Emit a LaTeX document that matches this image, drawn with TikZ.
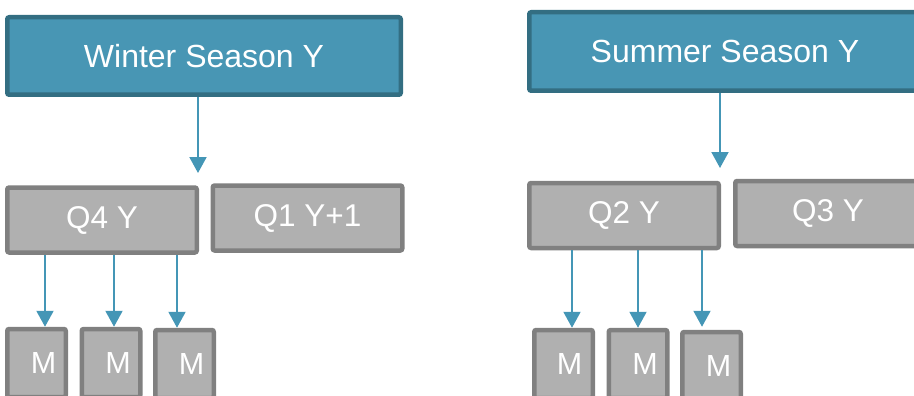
\documentclass[tikz,border=0pt]{standalone}
\usepackage{fontspec}
\setmainfont{Liberation Sans}
\usetikzlibrary{arrows.meta}
\definecolor{bfill}{HTML}{4896B4}
\definecolor{bdraw}{HTML}{336E82}
\definecolor{gfill}{HTML}{B0B0B0}
\definecolor{gdraw}{HTML}{808080}
\definecolor{arrc}{HTML}{4496B6}
\tikzset{
  season/.style={draw=bdraw, fill=bfill, line width=4.5pt, rounded corners=2pt, text=white,
    font=\fontsize{32}{36}\selectfont, inner sep=0pt},
  quarter/.style={draw=gdraw, fill=gfill, line width=4.5pt, rounded corners=2pt, text=white,
    font=\fontsize{31.5}{36}\selectfont, inner sep=0pt, minimum width=189.5pt, minimum height=65pt},
  month/.style={draw=gdraw, fill=gfill, line width=4.5pt, rounded corners=2pt, text=white,
    font=\fontsize{30.5}{36}\selectfont, inner sep=0pt, minimum width=58.5pt, minimum height=68pt},
  arr/.style={draw=arrc, line width=2pt, -{Triangle[width=17pt,length=16pt]}}
}
\begin{document}
\begin{tikzpicture}[x=1pt,y=-1pt]
\useasboundingbox (0,0) rectangle (914,396);
\clip (0,0) rectangle (914,396);
% winter
\node[season, minimum width=393.5pt, minimum height=77.5pt] (win) at (204,56) {Winter Season Y};
\node[quarter] (q4) at (102,220) {Q4 Y};
\node[quarter] (q1) at (307.5,218) {Q1 Y+1};
\node[month] (wm1) at (36.5,363) {\hspace*{14pt}M};
\node[month] (wm2) at (111,363) {\hspace*{14pt}M};
\node[month] (wm3) at (184.5,364) {\hspace*{14pt}M};
\coordinate (wt) at (198,173);
\draw[arr] (win.south -| wt) -- (wt);
\draw[arr] (q4.south -| 45,0) -- (wm1.north -| 45,0);
\draw[arr] (q4.south -| 114,0) -- (wm2.north -| 114,0);
\draw[arr] (q4.south -| 177,0) -- (wm3.north -| 177,0);
% summer
\node[season, minimum width=391.5pt, minimum height=78.5pt] (sum) at (725,51.5) {Summer Season Y};
\node[quarter] (q2) at (624,215.5) {Q2 Y};
\node[quarter] (q3) at (830,213.5) {\hspace*{-4pt}Q3 Y};
\node[month] (sm1) at (563.5,364) {\hspace*{12pt}M};
\node[month] (sm2) at (638,364) {\hspace*{14pt}M};
\node[month] (sm3) at (711.5,366) {\hspace*{14pt}M};
\coordinate (st) at (720,168);
\draw[arr] (sum.south -| st) -- (st);
\draw[arr] (q2.south -| 572,0) -- (sm1.north -| 572,0);
\draw[arr] (q2.south -| 638,0) -- (sm2.north -| 638,0);
\draw[arr] (q2.south -| 702,0) -- ([yshift=3pt]sm3.north -| 702,0);
\end{tikzpicture}
\end{document}
